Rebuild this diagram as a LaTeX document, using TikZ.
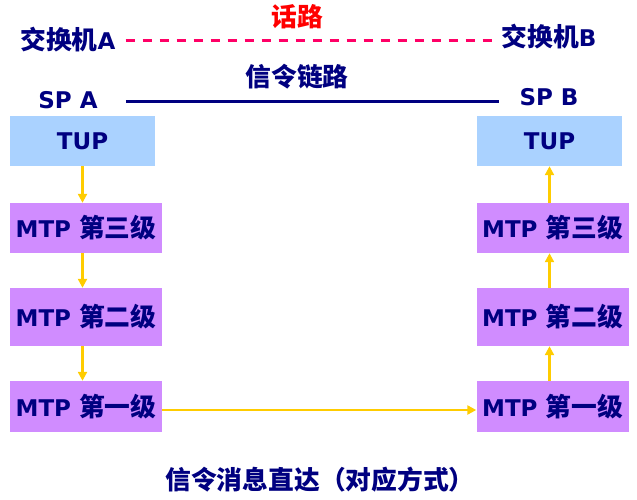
\documentclass[tikz,border=0pt]{standalone}
\usepackage{fontspec}
\setmainfont{DejaVu Sans}
\newfontfamily\zhfont[Scale=1.12]{Noto Sans CJK SC}
\usetikzlibrary{arrows.meta,positioning,calc}
\definecolor{navyT}{RGB}{0,0,128}
\definecolor{tupC}{RGB}{170,210,255}
\definecolor{mtpC}{RGB}{208,140,255}
\definecolor{arrowC}{RGB}{255,204,0}
\definecolor{voiceC}{RGB}{255,0,102}
\newcommand{\zh}[1]{{\zhfont #1}}
\tikzset{
  lbl/.style={text=navyT, font=\bfseries\fontsize{23}{27}\selectfont, inner sep=0pt},
  tupbox/.style={rectangle, fill=tupC, minimum width=145pt, minimum height=50pt,
                 text=navyT, font=\bfseries\fontsize{23}{27}\selectfont},
  mtpbox/.style={rectangle, fill=mtpC, minimum width=152pt, minimum height=#1,
                 text=navyT, font=\bfseries\fontsize{23}{27}\selectfont},
  arr/.style={-{Triangle[length=9pt,width=9pt]}, line width=2.3pt, draw=arrowC},
}

\begin{document}
\begin{tikzpicture}[x=1pt,y=-1pt]
    \useasboundingbox (0,0) rectangle (637,499);
    % top: switches and voice path
    \node[lbl, text=red] (voice) at (297,17) {\zh{话路}};
    \node[lbl] (swA) at (68,40) {\zh{交换机}A};
    \node[lbl] (swB) at (549,37) {\zh{交换机}B};
    \draw[voiceC, line width=3pt, dash pattern=on 9pt off 8pt, shorten <=10pt, shorten >=9pt]
      (swA.east) -- (swA.east -| swB.west);
    \node[lbl] (link) at (297,77) {\zh{信令链路}};
    \node[lbl] (spA) at (68,100) {SP A};
    \node[lbl] (spB) at (549,97) {SP B};
    \draw[navyT, line width=3pt] ($(spA.east)+(28,1)$) -- ($(spB.west)+(-20,4)$);
    % left stack
    \node[tupbox] (tupA) at (82.5,141) {TUP};
    \node[mtpbox=50pt] (mtp3A) at (86,228) {MTP \zh{第三级}};
    \node[mtpbox=58pt] (mtp2A) at (86,317) {MTP \zh{第二级}};
    \node[mtpbox=51pt] (mtp1A) at (86,406.5) {MTP \zh{第一级}};
    % right stack
    \node[tupbox] (tupB) at (549.5,141) {TUP};
    \node[mtpbox=50pt] (mtp3B) at (552.5,228) {MTP \zh{第三级}};
    \node[mtpbox=58pt] (mtp2B) at (552.5,317) {MTP \zh{第二级}};
    \node[mtpbox=51pt] (mtp1B) at (552.5,406.5) {MTP \zh{第一级}};
    % message flow
    \draw[arr] (tupA.south) -- (tupA.south |- mtp3A.north);
    \draw[arr] (mtp3A.south -| tupA.south) -- (tupA.south |- mtp2A.north);
    \draw[arr] (mtp2A.south -| tupA.south) -- (tupA.south |- mtp1A.north);
    \draw[arr] ([yshift=-3.5pt]mtp1A.east) -- ([yshift=-3.5pt]mtp1B.west);
    \draw[arr] (mtp1B.north -| tupB.south) -- (tupB.south |- mtp2B.south);
    \draw[arr] (mtp2B.north -| tupB.south) -- (tupB.south |- mtp3B.south);
    \draw[arr] (mtp3B.north -| tupB.south) -- (tupB.south);
    \node[lbl] (caption) at (320,480) {\zh{信令消息直达（对应方式）}};
\end{tikzpicture}
\end{document}
